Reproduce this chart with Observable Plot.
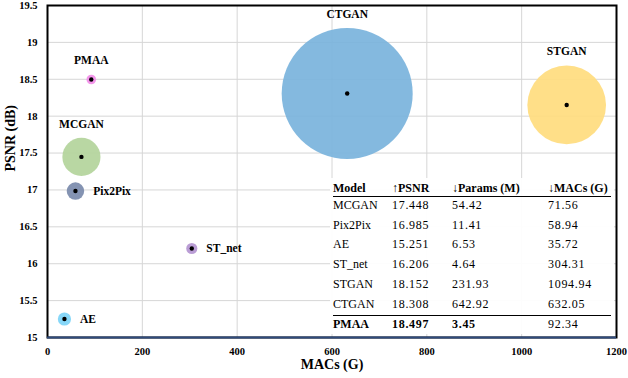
<!DOCTYPE html>
<html><head><meta charset="utf-8">
<script src="https://cdn.jsdelivr.net/npm/d3@7"></script>
<script src="https://cdn.jsdelivr.net/npm/@observablehq/plot@0.6"></script>
<style>
body{margin:0;background:#fff;}
#wrap{position:relative;width:628px;height:378px;overflow:hidden;}
#chart svg text{font-family:"Liberation Serif","Times New Roman",serif !important;}
#tbl{position:absolute;left:330px;top:178px;width:284px;height:156px;background:rgba(255,255,255,0.94);font-family:"Liberation Serif","Times New Roman",serif;font-size:12px;color:#000;}
.row{position:absolute;left:0;width:284px;}
.cell{position:absolute;top:0;white-space:nowrap;}
.num{letter-spacing:0.7px;}
.hline{position:absolute;left:3px;width:278px;height:0;border-top:1.5px solid #000;}
</style>
</head><body>
<div id="wrap"><div id="chart"></div><div id="tbl"></div></div>
<script>
// ---- data ----
const models  = ["MCGAN", "Pix2Pix", "AE", "ST_net", "STGAN", "CTGAN", "PMAA"];
const psnr    = [17.448, 16.985, 15.251, 16.206, 18.152, 18.308, 18.497];
const paramsM = [54.42, 11.41, 6.53, 4.64, 231.93, 642.92, 3.45];
const macsG   = [71.56, 58.94, 35.72, 304.31, 1094.94, 632.05, 92.34];
const colors  = ["#b3d49b", "#7a8aab", "#7dd4f7", "#b495d1", "#ffdc7e", "#7ab3dc", "#f28de8"];
const xTicks  = [0, 200, 400, 600, 800, 1000, 1200];
const yTicks  = [15, 15.5, 16, 16.5, 17, 17.5, 18, 18.5, 19, 19.5];
const tableHeader = ["Model", "↑PSNR", "↓Params (M)", "↓MACs (G)"];

const rows = models.map((m, i) => ({model: m, psnr: psnr[i], params: paramsM[i], macs: macsG[i], color: colors[i]}));
const rightLabeled = new Set(["Pix2Pix", "ST_net", "AE"]);

const rMax = 65.5;
const rs = d3.scaleSqrt().domain([0, d3.max(paramsM)]).range([0, rMax]);
const serif = '"Liberation Serif", "Times New Roman", serif';

const labelMarks = rows.map(d => rightLabeled.has(d.model)
  ? Plot.text([d], {x: "macs", y: "psnr", text: "model", textAnchor: "start", dx: rs(d.params) + 9, fontSize: 11.5, fontWeight: "bold"})
  : Plot.text([d], {x: "macs", y: "psnr", text: "model", textAnchor: "middle", dy: -(rs(d.params) + 14), fontSize: 11.5, fontWeight: "bold"}));

const chart = Plot.plot({
  width: 628, height: 378,
  marginLeft: 47, marginRight: 12, marginTop: 5, marginBottom: 41,
  style: {fontFamily: serif, fontSize: "10.5px", fontWeight: "bold", background: "white", color: "black"},
  x: {domain: [0, 1200]},
  y: {domain: [15, 19.5]},
  r: {type: "sqrt", domain: [0, d3.max(paramsM)], range: [0, rMax]},
  color: {type: "identity"},
  marks: [
    Plot.gridX(xTicks, {stroke: "#d6d6d6", strokeOpacity: 1, strokeWidth: 1}),
    Plot.gridY(yTicks, {stroke: "#d6d6d6", strokeOpacity: 1, strokeWidth: 1}),
    Plot.dot(rows, {x: "macs", y: "psnr", r: "params", fill: "color", fillOpacity: 0.92}),
    Plot.dot(rows, {x: "macs", y: "psnr", r: 2.2, fill: "black"}),
    ...labelMarks,
    Plot.axisX(xTicks, {tickSize: 0, tickPadding: 10, label: null, tickFormat: d => String(d), fontSize: 10.5}),
    Plot.axisY(yTicks, {tickSize: 0, tickPadding: 10, label: null, tickFormat: d => String(d), fontSize: 10.5}),
    Plot.frame({stroke: "black", strokeWidth: 2}),
    Plot.ruleY([15], {stroke: "#2f4b7c", strokeWidth: 2}),
    Plot.text(["MACs (G)"], {frameAnchor: "bottom", dy: 31, fontSize: 14, fontWeight: "bold"}),
    Plot.text(["PSNR (dB)"], {frameAnchor: "left", dx: -37, rotate: -90, fontSize: 14, fontWeight: "bold"})
  ]
});
document.getElementById("chart").appendChild(chart);

// ---- table overlay ----
const tbl = document.getElementById("tbl");
const colX = [3, 62, 122, 218];
const headerH = 18, rowH = 19.7;
function addRow(cells, top, h, bold) {
  const r = document.createElement("div");
  r.className = "row";
  r.style.top = top + "px"; r.style.height = h + "px"; r.style.lineHeight = h + "px";
  if (bold) r.style.fontWeight = "bold";
  cells.forEach((c, j) => {
    const s = document.createElement("div");
    s.className = "cell" + (j > 0 && !bold ? " num" : ""); s.style.left = colX[j] + "px"; s.textContent = c;
    r.appendChild(s);
  });
  tbl.appendChild(r);
  return r;
}
function addLine(top) {
  const l = document.createElement("div");
  l.className = "hline"; l.style.top = top + "px"; tbl.appendChild(l);
}
addRow(tableHeader, 1, headerH, true);
addLine(headerH);
rows.forEach((d, i) => {
  const cells = [d.model, d.psnr.toFixed(3), d.params.toFixed(2), d.macs.toFixed(2)];
  const isOurs = d.model === "PMAA";
  const top = headerH + i * rowH + (isOurs ? 1 : 0);
  if (isOurs) addLine(top);
  const r = addRow(cells, top, rowH, false);
  if (isOurs) [0, 1, 2].forEach(j => r.children[j].style.fontWeight = "bold");
});
</script>
</body></html>
